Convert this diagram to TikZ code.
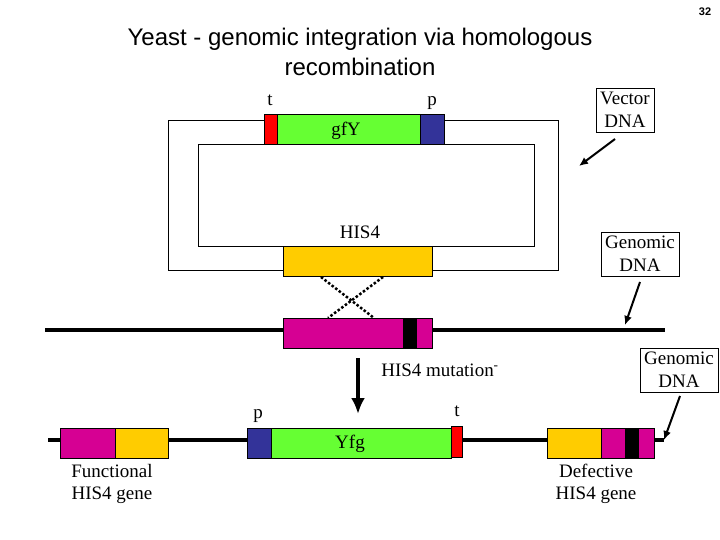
\documentclass[tikz,border=0pt]{standalone}
\usepackage{fontspec}
\usetikzlibrary{arrows.meta}
\setmainfont{Liberation Serif}
\newfontfamily\ttlfont{Liberation Sans}
\begin{document}
\begin{tikzpicture}[x=1pt,y=-1pt,
  lbl/.style={inner sep=0pt,font=\fontsize{19}{22}\selectfont},
  box/.style={draw,thin,align=center,inner sep=4pt,font=\fontsize{19}{23}\selectfont,fill=white},
  seg/.style={draw,thin},
  ptr/.style={line width=2pt,-{Latex[length=9pt,width=8pt]}},
  dna/.style={line width=4pt}]
\useasboundingbox (0,0) rectangle (720,540);
\definecolor{gr}{RGB}{102,255,51}
\definecolor{bl}{RGB}{51,51,153}
\definecolor{rd}{RGB}{255,0,0}
\definecolor{yl}{RGB}{255,204,0}
\definecolor{mg}{RGB}{214,0,147}
\node[font=\ttlfont\bfseries\fontsize{11}{13}\selectfont] (num) at (705,12) {32};
\node[align=center,font=\ttlfont\fontsize{24}{30}\selectfont] (title) at (360,52) {Yeast - genomic integration via homologous\\recombination};
% vector
\draw[thin] (168,120) rectangle (558,270);
\draw[thin] (198,144) rectangle (534,246);
\fill[white] (264,115) rectangle (444,143);
\path[seg,fill=rd] (264,114) rectangle (277,144);
\path[seg,fill=gr] (277,114) rectangle (420,144);
\path[seg,fill=bl] (420,114) rectangle (444,144);
\fill[white] (283,244) rectangle (432,275);
\path[seg,fill=yl] (283,246) rectangle (432,276);
\node[lbl] (t1) at (270,100) {t};
\node[lbl] (p1) at (432,103) {p};
\node[lbl] (gfy) at (346,131) {gf\kern-0.5pt Y};
\node[lbl] (his) at (360,232) {HIS4};
% crossover
\coordinate (c1) at (321,277); \coordinate (c2) at (374,318);
\coordinate (c3) at (383,277); \coordinate (c4) at (328,318);
\draw[line width=2.5pt,dotted] (c1) -- (c2);
\draw[line width=2.5pt,dotted] (c3) -- (c4);
% genomic
\coordinate (g1) at (45,330); \coordinate (g2) at (665,330);
\draw[dna] (g1) -- (g2);
\path[seg,fill=mg] (283,318) rectangle (432,348);
\path[seg,fill=black] (403,318) rectangle (416,348);
\node[box] (vec) at (625,110) {Vector\\DNA};
\coordinate (va) at (615,139); \coordinate (vb) at (579,166);
\draw[ptr] (va) -- (vb);
\node[box] (gen1) at (640,254) {Genomic\\DNA};
\coordinate (ga) at (640,282); \coordinate (gb) at (625,325);
\draw[ptr] (ga) -- (gb);
% big arrow
\coordinate (ba) at (358,358); \coordinate (bb) at (358,414);
\draw[line width=4pt,-{Latex[length=16pt,width=14pt]}] (ba) -- (bb);
\node[lbl] (mut) at (440,370) {HIS4 mutation\textsuperscript{-}};
\node[box,anchor=west] (gen2) at (640,370) {Genomic\\DNA};
% bottom line
\coordinate (h1) at (48,440); \coordinate (h2) at (664,440);
\draw[dna] (h1) -- (h2);
\path[seg,fill=mg] (60,428) rectangle (115,458);
\path[seg,fill=yl] (115,428) rectangle (168,458);
\path[seg,fill=bl] (247,428) rectangle (271,458);
\path[seg,fill=gr] (271,428) rectangle (451,458);
\path[seg,fill=rd] (451,426) rectangle (462,457);
\path[seg,fill=yl] (547,428) rectangle (601,458);
\path[seg,fill=mg] (601,428) rectangle (654,458);
\path[seg,fill=black] (625,428) rectangle (638,458);
\node[lbl] (p2) at (258,416) {p};
\node[lbl] (t2) at (457,411) {t};
\node[lbl] (yfg) at (350,444) {Yfg};
\node[align=center,font=\fontsize{19}{22}\selectfont] (fun) at (112,484) {Functional\\HIS4 gene};
\node[align=center,font=\fontsize{19}{22}\selectfont] (def) at (596,484) {Defective\\HIS4 gene};
\coordinate (ka) at (680,396); \coordinate (kb) at (664,440);
\draw[ptr] (ka) -- (kb);
\end{tikzpicture}
\end{document}
